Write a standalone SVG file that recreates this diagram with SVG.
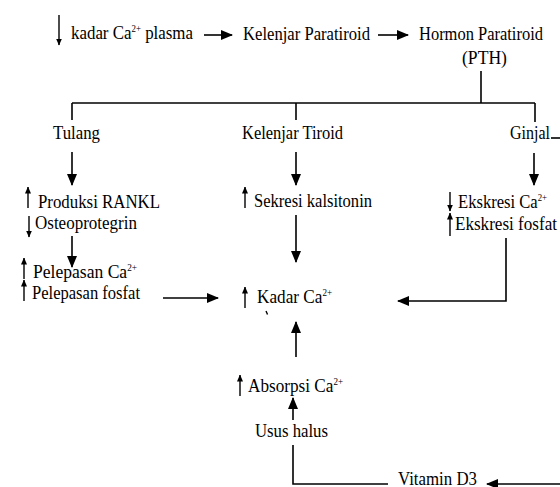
<svg xmlns="http://www.w3.org/2000/svg" width="560" height="487" viewBox="0 0 560 487">
<style>
  text { font-family: "Liberation Serif", "Times New Roman", serif; font-size: 19px; fill: #000; }
  .sup { font-size: 10px; }
  .ln { stroke: #000; stroke-width: 1.6; fill: none; }
  .gl { stroke: #000; stroke-width: 1.4; fill: none; }
</style>
<defs>
  <marker id="ah" markerUnits="userSpaceOnUse" markerWidth="12" markerHeight="10" refX="11" refY="5" orient="auto">
    <path d="M0,0 L12,5 L0,10 Z" fill="#000"/>
  </marker>
  <marker id="sh" markerUnits="userSpaceOnUse" markerWidth="7" markerHeight="6" refX="6.5" refY="3" orient="auto">
    <path d="M0,0 L7,3 L0,6 Z" fill="#000"/>
  </marker>
</defs>

<g id="glyph-arrows">
  <line class="gl" x1="59" y1="15" x2="59" y2="45" marker-end="url(#sh)"/>
  <line class="gl" x1="28" y1="208" x2="28" y2="187" marker-end="url(#sh)"/>
  <line class="gl" x1="29" y1="216" x2="29" y2="237" marker-end="url(#sh)"/>
  <line class="gl" x1="24" y1="279" x2="24" y2="258" marker-end="url(#sh)"/>
  <line class="gl" x1="24" y1="301" x2="24" y2="280" marker-end="url(#sh)"/>
  <line class="gl" x1="245" y1="208" x2="245" y2="187" marker-end="url(#sh)"/>
  <line class="gl" x1="245" y1="308" x2="245" y2="287" marker-end="url(#sh)"/>
  <line class="gl" x1="450" y1="192" x2="450" y2="211" marker-end="url(#sh)"/>
  <line class="gl" x1="450" y1="236" x2="450" y2="213" marker-end="url(#sh)"/>
  <line class="gl" x1="240" y1="396" x2="240" y2="375" marker-end="url(#sh)"/>
  <line class="gl" x1="266" y1="311" x2="267.5" y2="314.5"/>
</g>

<g id="connectors">
  <line class="ln" x1="204" y1="35" x2="232" y2="35" marker-end="url(#ah)"/>
  <line class="ln" x1="378" y1="35" x2="408" y2="35" marker-end="url(#ah)"/>
  <line class="ln" x1="481" y1="71" x2="481" y2="103"/>
  <line class="ln" x1="72" y1="103" x2="535" y2="103"/>
  <line class="ln" x1="72" y1="103" x2="72" y2="120"/>
  <line class="ln" x1="296" y1="103" x2="296" y2="120"/>
  <line class="ln" x1="535" y1="103" x2="535" y2="122"/>
  <line class="ln" x1="72" y1="152" x2="72" y2="185" marker-end="url(#ah)"/>
  <line class="ln" x1="296" y1="152" x2="296" y2="185" marker-end="url(#ah)"/>
  <line class="ln" x1="534" y1="153" x2="534" y2="185" marker-end="url(#ah)"/>
  <line class="ln" x1="72" y1="236" x2="72" y2="267" marker-end="url(#ah)"/>
  <line class="ln" x1="296" y1="215" x2="296" y2="262" marker-end="url(#ah)"/>
  <line class="ln" x1="163" y1="298" x2="218" y2="298" marker-end="url(#ah)"/>
  <polyline class="ln" points="506,238 506,301 398,301" marker-end="url(#ah)"/>
  <line class="ln" x1="296" y1="357" x2="296" y2="322" marker-end="url(#ah)"/>
  <line class="ln" x1="293" y1="420" x2="293" y2="398" marker-end="url(#ah)"/>
  <polyline class="ln" points="293,445 293,484 388,484"/>
  <line class="ln" x1="560" y1="484" x2="487" y2="484" marker-end="url(#ah)"/>
  <line class="ln" x1="551" y1="138" x2="560" y2="138"/>
</g>

<g id="n-kadar-plasma"><text x="71" y="39" textLength="122" lengthAdjust="spacingAndGlyphs">kadar Ca<tspan class="sup" dy="-7">2+</tspan><tspan dy="7"> plasma</tspan></text></g>
<g id="n-kelenjar-paratiroid"><text x="243" y="40" textLength="127" lengthAdjust="spacingAndGlyphs">Kelenjar Paratiroid</text></g>
<g id="n-hormon"><text x="419" y="40" textLength="124" lengthAdjust="spacingAndGlyphs">Hormon Paratiroid</text><text x="462" y="64" textLength="45" lengthAdjust="spacingAndGlyphs">(PTH)</text></g>
<g id="n-tulang"><text x="53" y="139" textLength="47" lengthAdjust="spacingAndGlyphs">Tulang</text></g>
<g id="n-kelenjar-tiroid"><text x="242" y="139" textLength="101" lengthAdjust="spacingAndGlyphs">Kelenjar Tiroid</text></g>
<g id="n-ginjal"><text x="510" y="139" textLength="40" lengthAdjust="spacingAndGlyphs">Ginjal</text></g>
<g id="n-rankl"><text x="38" y="208" textLength="122" lengthAdjust="spacingAndGlyphs">Produksi RANKL</text><text x="35" y="229" textLength="102" lengthAdjust="spacingAndGlyphs">Osteoprotegrin</text></g>
<g id="n-pelepasan"><text x="33" y="278" textLength="104" lengthAdjust="spacingAndGlyphs">Pelepasan Ca<tspan class="sup" dy="-7">2+</tspan></text><text x="32" y="299" textLength="108" lengthAdjust="spacingAndGlyphs">Pelepasan fosfat</text></g>
<g id="n-sekresi"><text x="254" y="207" textLength="118" lengthAdjust="spacingAndGlyphs">Sekresi kalsitonin</text></g>
<g id="n-kadar"><text x="257" y="303" textLength="75" lengthAdjust="spacingAndGlyphs">Kadar Ca<tspan class="sup" dy="-7">2+</tspan></text></g>
<g id="n-ekskresi"><text x="458" y="208" textLength="89" lengthAdjust="spacingAndGlyphs">Ekskresi Ca<tspan class="sup" dy="-7">2+</tspan></text><text x="455" y="230" textLength="102" lengthAdjust="spacingAndGlyphs">Ekskresi fosfat</text></g>
<g id="n-absorpsi"><text x="248" y="392" textLength="95" lengthAdjust="spacingAndGlyphs">Absorpsi Ca<tspan class="sup" dy="-7">2+</tspan></text></g>
<g id="n-usus"><text x="255" y="437" textLength="73" lengthAdjust="spacingAndGlyphs">Usus halus</text></g>
<g id="n-vitd"><text x="398" y="485" textLength="79" lengthAdjust="spacingAndGlyphs">Vitamin D3</text></g>
</svg>
